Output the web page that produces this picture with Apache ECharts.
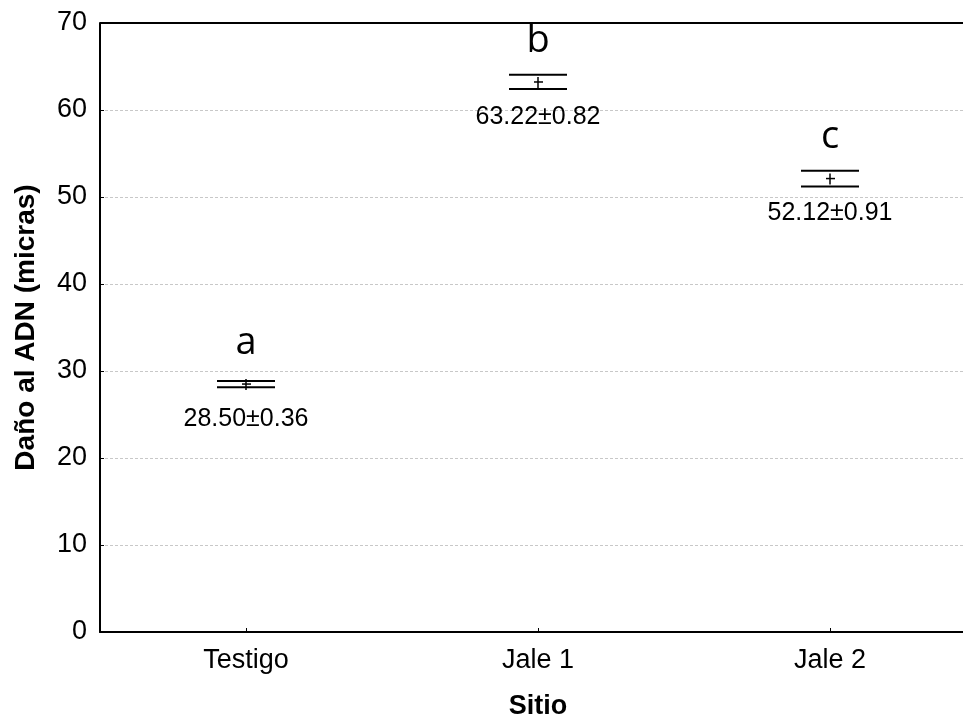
<!DOCTYPE html>
<html>
<head>
<meta charset="utf-8">
<script src="https://cdn.jsdelivr.net/npm/echarts@6/dist/echarts.min.js"></script>
<style>
  html, body { margin: 0; padding: 0; background: #fff; overflow: hidden; }
  #chart { width: 963px; height: 719px; }
</style>
</head>
<body>
<div id="chart"></div>
<script>
// Sites, mean DNA damage and standard error, plus significance letters
const sitios = ['Testigo', 'Jale 1', 'Jale 2'];
const medias = [28.50, 63.22, 52.12];
const errores = [0.36, 0.82, 0.91];
const letras = ['a', 'b', 'c'];
const yTicks = [0, 10, 20, 30, 40, 50, 60, 70];

const chart = echarts.init(document.getElementById('chart'));

const seriesData = sitios.map((s, i) => [i, medias[i], errores[i]]);
const axisFont = 'Liberation Sans, Arial';

chart.setOption({
  animation: false,
  grid: { left: 100, width: 876, top: 23, bottom: 87, containLabel: false, outerBoundsMode: 'none' },
  xAxis: {
    type: 'category',
    data: sitios,
    boundaryGap: true,
    name: 'Sitio',
    nameLocation: 'middle',
    nameGap: 61,
    nameTextStyle: { fontFamily: axisFont, fontWeight: 'bold', fontSize: 27, color: '#000' },
    axisLine: { lineStyle: { color: '#000', width: 2 } },
    axisTick: { show: true, inside: true, length: 4, alignWithLabel: true, lineStyle: { color: '#000', width: 1 } },
    axisLabel: { fontFamily: axisFont, fontSize: 27, color: '#000', margin: 15 },
    splitLine: { show: false }
  },
  yAxis: {
    type: 'value',
    min: yTicks[0],
    max: yTicks[yTicks.length - 1],
    interval: 10,
    name: 'Daño al ADN (micras)',
    nameLocation: 'middle',
    nameGap: 60,
    nameTextStyle: { fontFamily: axisFont, fontWeight: 'bold', fontSize: 28, color: '#000' },
    axisLine: { show: true, lineStyle: { color: '#000', width: 2 } },
    axisTick: { show: true, inside: true, length: 4, lineStyle: { color: '#000', width: 1 } },
    axisLabel: { fontFamily: axisFont, fontSize: 27, color: '#000', margin: 13 },
    splitLine: {
      show: true,
      lineStyle: { color: '#c8c8c8', type: [3, 2], width: 1 }
    }
  },
  series: [
    {
      // top frame line at the maximum of the value axis
      type: 'line',
      data: [],
      silent: true,
      markLine: {
        symbol: 'none',
        silent: true,
        label: { show: false },
        lineStyle: { color: '#000', type: 'solid', width: 2 },
        data: [{ yAxis: yTicks[yTicks.length - 1] }]
      }
    },
    {
      type: 'custom',
      data: seriesData,
      z: 10,
      renderItem: function (params, api) {
        const x = api.value(0);
        const m = api.value(1);
        const se = api.value(2);
        const letter = letras[params.dataIndex];
        const c = api.coord([x, m]);
        const top = api.coord([x, m + se]);
        const bot = api.coord([x, m - se]);
        const half = 29;
        const ls = { stroke: '#000', lineWidth: 2 };
        return {
          type: 'group',
          children: [
            { type: 'line', shape: { x1: c[0] - half, y1: top[1], x2: c[0] + half, y2: top[1] }, style: ls },
            { type: 'line', shape: { x1: c[0] - half, y1: bot[1], x2: c[0] + half, y2: bot[1] }, style: ls },
            { type: 'line', shape: { x1: c[0], y1: c[1] - 5, x2: c[0], y2: c[1] + 6 }, style: { stroke: '#000', lineWidth: 1.5 } },
            { type: 'line', shape: { x1: c[0] - 4, y1: c[1], x2: c[0] + 5, y2: c[1] }, style: { stroke: '#000', lineWidth: 1.5 } },
            {
              type: 'text',
              style: {
                x: c[0], y: c[1] - 22,
                text: letter,
                fill: '#000',
                font: '38px "Open Sans"',
                align: 'center',
                verticalAlign: 'bottom'
              }
            },
            {
              type: 'text',
              style: {
                x: c[0], y: c[1] + 35,
                text: m.toFixed(2) + '±' + se.toFixed(2),
                fill: '#000',
                font: '25px "Liberation Sans"',
                align: 'center',
                verticalAlign: 'middle'
              }
            }
          ]
        };
      }
    }
  ]
});
</script>
</body>
</html>
